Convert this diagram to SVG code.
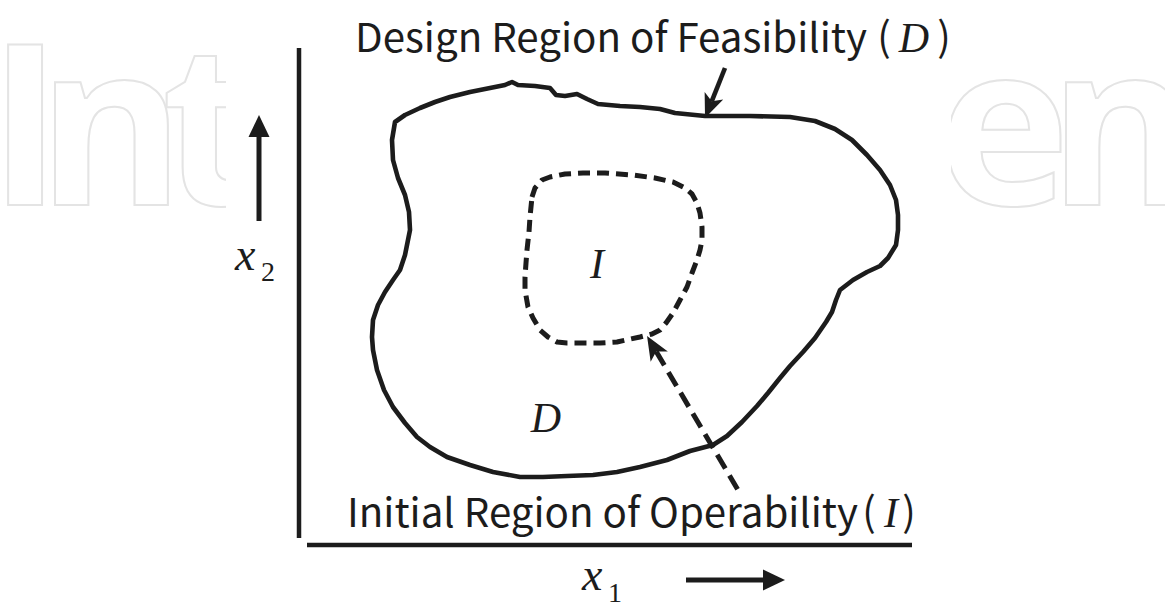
<svg xmlns="http://www.w3.org/2000/svg" width="1165" height="602" viewBox="0 0 1165 602">
  <defs>
    <style>
      .ink { stroke: #1c1c1c; fill: none; stroke-linejoin: round; stroke-linecap: butt; }
      .solid { stroke-width: 4.6; }
      .dashed { stroke-width: 5; stroke-dasharray: 12 7; }
      .dashed-arrow { stroke-width: 5; stroke-dasharray: 16 8; }
      .axis { stroke: #1c1c1c; stroke-width: 4.5; fill: none; }
      .label { font-family: "Noto Sans CJK JP", "Noto Sans", sans-serif; font-size: 40px; fill: #1c1c1c; }
      .math { font-family: "Liberation Serif", "DejaVu Serif", serif; font-style: italic; fill: #1c1c1c; }
      .sub { font-family: "Liberation Serif", "DejaVu Serif", serif; fill: #1c1c1c; }
      .mark { font-family: "Open Sans", "Lato", sans-serif; font-size: 224px; font-weight: 700; fill: #ffffff; stroke: #e4e4e4; stroke-width: 2; }
    </style>
    <!-- barbed head used on the pointer arrows -->
    <marker id="barb" markerUnits="userSpaceOnUse" markerWidth="30" markerHeight="24" viewBox="0 -12 30 24" refX="6" refY="0" orient="auto">
      <path d="M0,-10 L24,0 L0,10 L6,0 Z" fill="#1c1c1c"/>
    </marker>
    <!-- same head drawn at the start of a path, facing back along it -->
    <marker id="barb-rev" markerUnits="userSpaceOnUse" markerWidth="30" markerHeight="24" viewBox="0 -12 30 24" refX="6" refY="0" orient="auto-start-reverse">
      <path d="M0,-10 L24,0 L0,10 L6,0 Z" fill="#1c1c1c"/>
    </marker>
    <!-- plain triangular head used on the axis direction arrows -->
    <marker id="tri" markerUnits="userSpaceOnUse" markerWidth="26" markerHeight="24" viewBox="0 -12 26 24" refX="2" refY="0" orient="auto">
      <path d="M0,-10.5 L22,0 L0,10.5 Z" fill="#1c1c1c"/>
    </marker>
    <clipPath id="clip-left"><rect x="0" y="0" width="226" height="260"/></clipPath>
    <clipPath id="clip-right"><rect x="951" y="0" width="214" height="260"/></clipPath>
  </defs>

  <rect width="1165" height="602" fill="#ffffff"/>

  <!-- publisher mark in the background -->
  <g id="watermark">
    <text class="mark" clip-path="url(#clip-left)" y="205"><tspan x="25" text-anchor="middle">I</tspan><tspan x="111" text-anchor="middle">n</tspan><tspan x="210" text-anchor="middle">t</tspan></text>
    <text class="mark" clip-path="url(#clip-right)" y="205"><tspan x="1004" text-anchor="middle">e</tspan><tspan x="1122" text-anchor="middle">n</tspan></text>
  </g>

  <!-- coordinate axes -->
  <g id="axes">
    <line class="axis" x1="299" y1="48" x2="299" y2="538"/>
    <line class="axis" x1="307" y1="545" x2="912" y2="545"/>
  </g>

  <!-- design region of feasibility D (solid outline) -->
  <g id="region-d">
    <path class="ink solid" d="M395,122 L405,115 L420,108 L435,102 L450,97 L470,92 L490,88 L505,85 L512,82 L518,85 L535,86 L550,88 L556,95 L565,96 L577,94 L587,99 L598,104 L620,106 L640,107 L660,109 L675,113 L705,116 L750,116 L790,117 L815,121 L835,129 L852,140 L867,155 L880,170 L890,185 L896,200 L898,215 L898,230 L896,245 L888,258 L880,266 L867,272 L853,280 L840,290 L836,300 L832,312 L826,322 L815,338 L803,352 L790,366 L780,378 L768,393 L757,406 L742,422 L727,436 L713,445 L690,451 L667,460 L640,467 L617,472 L593,475 L567,476 L543,477 L520,477 L493,472 L470,465 L447,457 L430,447 L417,437 L405,423 L393,407 L384,390 L377,370 L373,350 L372,337 L373,320 L378,305 L385,292 L393,280 L400,270 L405,255 L408,240 L410,230 L409,212 L405,195 L398,178 L393,160 L392,140 Z"/>
    <text class="math" x="546" y="432" font-size="42" text-anchor="middle">D</text>
  </g>

  <!-- initial region of operability I (dashed outline) -->
  <g id="region-i">
    <path class="ink dashed" d="M532,197 L535,188 L542,180 L550,177 L565,174 L583,173 L605,173 L633,175 L655,178 L673,182 L685,188 L692,194 L697,203 L700,213 L702,227 L702,240 L700,250 L697,260 L692,273 L687,287 L680,300 L673,313 L666,323 L660,330 L652,334 L640,337 L617,342 L600,343 L583,343 L567,343 L557,342 L548,337 L540,330 L533,318 L528,307 L525,290 L525,277 L526,263 L527,250 L529,232 L530,217 Z"/>
    <text class="math" x="597" y="278" font-size="42" text-anchor="middle">I</text>
  </g>

  <!-- caption for D -->
  <g id="label-d">
    <text class="label" x="355" y="52" textLength="512" lengthAdjust="spacingAndGlyphs">Design Region of Feasibility</text>
    <text class="label" x="884" y="51" text-anchor="middle">(</text>
    <text class="math" x="914" y="52" font-size="42" text-anchor="middle">D</text>
    <text class="label" x="944" y="51" text-anchor="middle">)</text>
  </g>

  <!-- caption for I -->
  <g id="label-i">
    <text class="label" x="347" y="527" textLength="511" lengthAdjust="spacingAndGlyphs">Initial Region of Operability</text>
    <text class="label" x="869" y="526" text-anchor="middle">(</text>
    <text class="math" x="891" y="527" font-size="42" text-anchor="middle">I</text>
    <text class="label" x="909" y="526" text-anchor="middle">)</text>
  </g>

  <!-- axis names -->
  <g id="label-x2">
    <text class="math" x="235" y="270" font-size="46">x</text>
    <text class="sub" x="261" y="281" font-size="28">2</text>
  </g>
  <g id="label-x1">
    <text class="math" x="582" y="590" font-size="46">x</text>
    <text class="sub" x="608" y="602" font-size="28">1</text>
  </g>

  <!-- arrows -->
  <g id="connectors">
    <line class="ink solid" x1="725" y1="68" x2="711.7" y2="101.3" marker-end="url(#barb)"/>
    <path class="ink dashed-arrow" d="M656.2,351.5 L738,490" marker-start="url(#barb-rev)"/>
    <line class="ink" stroke-width="5" x1="259" y1="221" x2="259" y2="135" marker-end="url(#tri)"/>
    <line class="ink" stroke-width="5" x1="686" y1="580" x2="765" y2="580" marker-end="url(#tri)"/>
  </g>
</svg>
